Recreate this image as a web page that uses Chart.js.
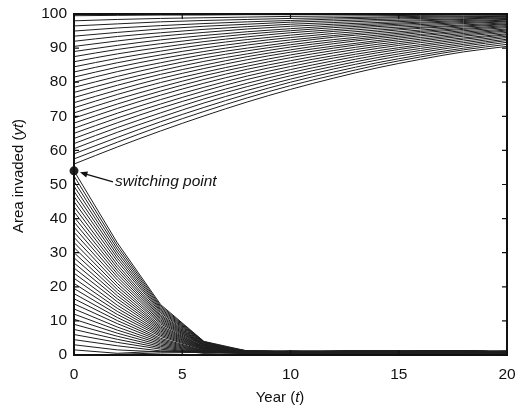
<!DOCTYPE html>
<html>
<head>
<meta charset="utf-8">
<script src="https://cdn.jsdelivr.net/npm/chart.js@4"></script>
<style>
html,body{margin:0;padding:0;background:#fff;}
#c{display:block;}
</style>
</head>
<body>
<canvas id="c" width="522" height="415"></canvas>
<script>
// ---- data ----
const years = [0, 2, 4, 6, 8, 10, 12, 14, 16, 18, 20];
const xTicks = [0, 5, 10, 15, 20];
const yTicks = [0, 10, 20, 30, 40, 50, 60, 70, 80, 90, 100];
const switchingPoint = { year: 0, area: 54 };

// trajectories starting above the switching point
const aboveSwitch = [
  [56, 61.0, 65.7, 70.1, 74.2, 77.9, 81.2, 84.2, 86.7, 88.9, 90.5],
  [57.5, 62.4, 67.1, 71.4, 75.4, 79.0, 82.1, 85.0, 87.4, 89.5, 91.1],
  [59, 63.8, 68.4, 72.6, 76.5, 80.0, 83.0, 85.7, 88.0, 90.0, 91.7],
  [60.5, 65.3, 69.7, 73.9, 77.6, 80.9, 83.9, 86.5, 88.7, 90.6, 92.2],
  [62, 66.7, 71.0, 75.1, 78.7, 81.9, 84.7, 87.2, 89.3, 91.1, 92.6],
  [63.5, 68.1, 72.4, 76.2, 79.7, 82.8, 85.5, 87.9, 89.9, 91.6, 93.1],
  [65, 69.5, 73.6, 77.4, 80.8, 83.7, 86.3, 88.6, 90.5, 92.1, 93.5],
  [66.5, 70.9, 74.9, 78.5, 81.8, 84.6, 87.1, 89.2, 91.0, 92.6, 93.9],
  [68, 72.3, 76.2, 79.7, 82.8, 85.5, 87.8, 89.9, 91.6, 93.0, 94.2],
  [69.5, 73.6, 77.4, 80.8, 83.8, 86.3, 88.6, 90.5, 92.1, 93.5, 94.6],
  [71, 75.0, 78.6, 81.9, 84.7, 87.2, 89.3, 91.1, 92.6, 93.9, 95.0],
  [72.5, 76.4, 79.9, 82.9, 85.6, 88.0, 90.0, 91.7, 93.1, 94.3, 95.3],
  [74, 77.7, 81.1, 84.0, 86.6, 88.8, 90.6, 92.2, 93.6, 94.7, 95.6],
  [75.5, 79.1, 82.3, 85.0, 87.5, 89.5, 91.3, 92.8, 94.0, 95.1, 96.0],
  [77, 80.4, 83.4, 86.1, 88.3, 90.3, 91.9, 93.3, 94.5, 95.5, 96.3],
  [78.5, 81.7, 84.6, 87.1, 89.2, 91.0, 92.5, 93.8, 94.9, 95.8, 96.6],
  [80, 83.1, 85.7, 88.1, 90.0, 91.7, 93.2, 94.3, 95.3, 96.2, 96.9],
  [81.5, 84.4, 86.9, 89.0, 90.9, 92.4, 93.7, 94.8, 95.8, 96.5, 97.1],
  [83, 85.7, 88.0, 90.0, 91.7, 93.1, 94.3, 95.3, 96.1, 96.8, 97.4],
  [84.5, 87.0, 89.1, 91.0, 92.5, 93.8, 94.9, 95.8, 96.5, 97.2, 97.7],
  [86, 88.3, 90.2, 91.9, 93.3, 94.5, 95.4, 96.3, 96.9, 97.5, 97.9],
  [87.5, 89.6, 91.3, 92.8, 94.1, 95.1, 96.0, 96.7, 97.3, 97.8, 98.2],
  [89, 90.8, 92.4, 93.7, 94.8, 95.7, 96.5, 97.1, 97.6, 98.1, 98.4],
  [90.5, 92.1, 93.5, 94.6, 95.6, 96.4, 97.0, 97.5, 98.0, 98.4, 98.7],
  [92, 93.4, 94.5, 95.5, 96.3, 97.0, 97.5, 98.0, 98.3, 98.6, 98.9],
  [93.5, 94.6, 95.6, 96.4, 97.0, 97.6, 98.0, 98.4, 98.7, 98.9, 99.1],
  [95, 95.9, 96.6, 97.2, 97.7, 98.1, 98.5, 98.8, 99.0, 99.2, 99.3],
  [96.5, 97.1, 97.7, 98.1, 98.4, 98.7, 98.9, 99.1, 99.3, 99.4, 99.5],
  [98, 98.4, 98.7, 98.9, 99.1, 99.3, 99.4, 99.5, 99.6, 99.7, 99.7],
  [99.5, 99.6, 99.7, 99.7, 99.8, 99.8, 99.9, 99.9, 99.9, 99.9, 99.9],
  [100, 100, 100, 100, 100, 100, 100, 100, 100, 100, 100]
];

// trajectories starting at or below the switching point
const belowSwitch = [
  [54, 32.9, 14.8, 4.0, 1.2, 1.0, 1.1, 1.3, 1.0, 1.1, 1.0],
  [52.5, 32.0, 14.4, 3.9, 0.9, 1.1, 1.0, 0.8, 1.2, 1.2, 0.9],
  [51, 31.1, 14.0, 3.8, 0.6, 0.8, 0.7, 0.9, 0.7, 0.6, 0.8],
  [49.5, 30.2, 13.6, 3.7, 0.4, 0.5, 0.6, 0.4, 0.5, 0.7, 0.5],
  [48, 29.3, 13.2, 3.6, 1.0, 0.7, 0.9, 1.1, 0.8, 1.0, 1.1],
  [46.5, 28.4, 12.8, 3.5, 1.2, 1.0, 1.1, 1.3, 1.0, 1.1, 1.0],
  [45, 27.5, 12.4, 3.3, 0.9, 1.1, 1.0, 0.8, 1.2, 1.2, 0.9],
  [43.5, 26.5, 11.9, 3.2, 0.6, 0.8, 0.7, 0.9, 0.7, 0.6, 0.8],
  [42, 25.6, 11.5, 3.1, 0.4, 0.5, 0.6, 0.4, 0.5, 0.7, 0.5],
  [40.5, 24.7, 11.1, 3.0, 1.0, 0.7, 0.9, 1.1, 0.8, 1.0, 1.1],
  [39, 23.8, 10.7, 2.9, 1.2, 1.0, 1.1, 1.3, 1.0, 1.1, 1.0],
  [37.5, 22.9, 10.3, 2.8, 0.9, 1.1, 1.0, 0.8, 1.2, 1.2, 0.9],
  [36, 22.0, 9.9, 2.7, 0.6, 0.8, 0.7, 0.9, 0.7, 0.6, 0.8],
  [34.5, 21.0, 9.5, 2.6, 0.4, 0.5, 0.6, 0.4, 0.5, 0.7, 0.5],
  [33, 20.1, 9.1, 2.4, 1.0, 0.7, 0.9, 1.1, 0.8, 1.0, 1.1],
  [31.5, 19.2, 8.6, 2.3, 1.2, 1.0, 1.1, 1.3, 1.0, 1.1, 1.0],
  [30, 18.3, 8.2, 2.2, 0.9, 1.1, 1.0, 0.8, 1.2, 1.2, 0.9],
  [28.5, 17.4, 7.8, 2.1, 0.6, 0.8, 0.7, 0.9, 0.7, 0.6, 0.8],
  [27, 16.5, 7.4, 2.0, 0.4, 0.5, 0.6, 0.4, 0.5, 0.7, 0.5],
  [25.5, 15.6, 7.0, 1.9, 1.0, 0.7, 0.9, 1.1, 0.8, 1.0, 1.1],
  [24, 14.6, 6.6, 1.8, 1.2, 1.0, 1.1, 1.3, 1.0, 1.1, 1.0],
  [22.5, 13.7, 6.2, 1.7, 0.9, 1.1, 1.0, 0.8, 1.2, 1.2, 0.9],
  [21, 12.8, 5.8, 1.6, 0.6, 0.8, 0.7, 0.9, 0.7, 0.6, 0.8],
  [19.5, 11.9, 5.4, 1.5, 0.4, 0.5, 0.6, 0.4, 0.5, 0.7, 0.5],
  [18, 11.0, 4.9, 1.3, 1.0, 0.7, 0.9, 1.1, 0.8, 1.0, 1.1],
  [16.5, 10.1, 4.5, 1.2, 1.2, 1.0, 1.1, 1.3, 1.0, 1.1, 1.0],
  [15, 9.2, 4.1, 1.1, 0.9, 1.1, 1.0, 0.8, 1.2, 1.2, 0.9],
  [13.5, 8.2, 3.7, 1.0, 0.6, 0.8, 0.7, 0.9, 0.7, 0.6, 0.8],
  [12, 7.3, 3.3, 0.9, 0.4, 0.5, 0.6, 0.4, 0.5, 0.7, 0.5],
  [10.5, 6.4, 2.9, 0.8, 1.0, 0.7, 0.9, 1.1, 0.8, 1.0, 1.1],
  [9, 5.5, 2.5, 0.7, 1.2, 1.0, 1.1, 1.3, 1.0, 1.1, 1.0],
  [7.5, 4.6, 2.1, 0.6, 0.9, 1.1, 1.0, 0.8, 1.2, 1.2, 0.9],
  [6, 3.7, 1.7, 0.5, 0.6, 0.8, 0.7, 0.9, 0.7, 0.6, 0.8],
  [4.5, 2.7, 1.2, 0.9, 0.4, 0.5, 0.6, 0.4, 0.5, 0.7, 0.5],
  [3, 1.5, 0.9, 1.0, 1.0, 0.7, 0.9, 1.1, 0.8, 1.0, 1.1],
  [1.5, 0.5, 1.1, 1.2, 1.2, 1.0, 1.1, 1.3, 1.0, 1.1, 1.0],
  [0, 0.2, 0.6, 0.8, 0.9, 1.1, 1.0, 0.8, 1.2, 1.2, 0.9]
];

const xTitle = ['Year (', 't', ')'];
const yTitle = ['Area invaded (', 'yt', ')'];
const annotationText = 'switching point';

// ---- chart ----
const FONT = '"Liberation Sans", Arial, Helvetica, sans-serif';
const LINE = '#1e1e1e';

const datasets = [];
aboveSwitch.forEach(arr => datasets.push({
  data: years.map((t, i) => ({ x: t, y: arr[i] })),
  borderColor: LINE, borderWidth: 1, pointRadius: 0,
  cubicInterpolationMode: 'monotone', fill: false
}));
belowSwitch.forEach(arr => datasets.push({
  data: years.map((t, i) => ({ x: t, y: arr[i] })),
  borderColor: LINE, borderWidth: 1, pointRadius: 0,
  tension: 0, fill: false
}));
datasets.push({
  data: [{ x: switchingPoint.year, y: switchingPoint.area }],
  showLine: false, pointRadius: 4.5, pointBackgroundColor: '#222',
  pointBorderColor: '#222', pointBorderWidth: 0, clip: false
});

function drawMixed(ctx, parts, x, y, size) {
  let cx = x;
  parts.forEach((p, i) => {
    ctx.font = (i === 1 ? 'italic ' : '') + size + 'px ' + FONT;
    ctx.fillText(p, cx, y);
    cx += ctx.measureText(p).width;
  });
}
function mixedWidth(ctx, parts, size) {
  let w = 0;
  parts.forEach((p, i) => {
    ctx.font = (i === 1 ? 'italic ' : '') + size + 'px ' + FONT;
    w += ctx.measureText(p).width;
  });
  return w;
}

const framePlugin = {
  id: 'frame',
  afterDatasetsDraw(chart) {
    const ctx = chart.ctx;
    const xs = chart.scales.x, ys = chart.scales.y;
    const L = xs.getPixelForValue(0), R = xs.getPixelForValue(20);
    const T = ys.getPixelForValue(100), B = ys.getPixelForValue(0);
    ctx.save();
    ctx.strokeStyle = '#111';
    ctx.lineWidth = 2;
    ctx.strokeRect(L, T, R - L, B - T);
    ctx.lineWidth = 1.2;
    ctx.beginPath();
    yTicks.forEach(v => {
      const p = ys.getPixelForValue(v);
      ctx.moveTo(L, p); ctx.lineTo(L + 5, p);
      ctx.moveTo(R, p); ctx.lineTo(R - 5, p);
    });
    xTicks.forEach(v => {
      const p = xs.getPixelForValue(v);
      ctx.moveTo(p, B); ctx.lineTo(p, B - 5);
      ctx.moveTo(p, T); ctx.lineTo(p, T + 5);
    });
    ctx.stroke();

    // annotation arrow + text
    const px = xs.getPixelForValue(switchingPoint.year);
    const py = ys.getPixelForValue(switchingPoint.area);
    const tipX = px + 6, tipY = py + 1.5;
    const tailX = px + 39, tailY = py + 11;
    ctx.strokeStyle = '#111';
    ctx.fillStyle = '#111';
    ctx.lineWidth = 1.3;
    ctx.beginPath();
    ctx.moveTo(tailX, tailY); ctx.lineTo(tipX + 5, tipY + 1.4);
    ctx.stroke();
    const ang = Math.atan2(tipY - tailY, tipX - tailX);
    ctx.beginPath();
    ctx.moveTo(tipX, tipY);
    ctx.lineTo(tipX - 8 * Math.cos(ang - 0.4), tipY - 8 * Math.sin(ang - 0.4));
    ctx.lineTo(tipX - 8 * Math.cos(ang + 0.4), tipY - 8 * Math.sin(ang + 0.4));
    ctx.closePath();
    ctx.fill();
    ctx.font = 'italic 15.5px ' + FONT;
    ctx.textBaseline = 'middle';
    ctx.textAlign = 'left';
    ctx.fillText(annotationText, tailX + 2, tailY);

    // axis titles
    ctx.fillStyle = '#111';
    ctx.textBaseline = 'middle';
    const xw = mixedWidth(ctx, xTitle, 15);
    drawMixed(ctx, xTitle, 280 - xw / 2, 398, 15);
    ctx.translate(19, 176);
    ctx.rotate(-Math.PI / 2);
    const yw = mixedWidth(ctx, yTitle, 15);
    drawMixed(ctx, yTitle, -yw / 2, 0, 15);
    ctx.restore();
  }
};

new Chart(document.getElementById('c'), {
  type: 'line',
  data: { datasets },
  options: {
    responsive: false,
    animation: false,
    devicePixelRatio: 1,
    layout: { padding: { left: 0, top: 14, right: 15, bottom: 0 } },
    plugins: { legend: { display: false }, tooltip: { enabled: false } },
    scales: {
      x: {
        type: 'linear', min: 0, max: 20,
        grid: { display: false, drawTicks: false }, border: { display: false },
        afterBuildTicks: s => { s.ticks = xTicks.map(v => ({ value: v })); },
        ticks: { color: '#111', font: { family: FONT, size: 15.5 }, padding: 10, maxRotation: 0 },
        afterFit: s => { s.height = 60; s.paddingLeft = 0; s.paddingRight = 0; }
      },
      y: {
        type: 'linear', min: 0, max: 100,
        grid: { display: false, drawTicks: false }, border: { display: false },
        afterBuildTicks: s => { s.ticks = yTicks.map(v => ({ value: v })); },
        ticks: { color: '#111', font: { family: FONT, size: 15.5 }, padding: 7 },
        afterFit: s => { s.width = 74; s.paddingTop = 0; s.paddingBottom = 0; }
      }
    }
  },
  plugins: [framePlugin]
});
</script>
</body>
</html>
